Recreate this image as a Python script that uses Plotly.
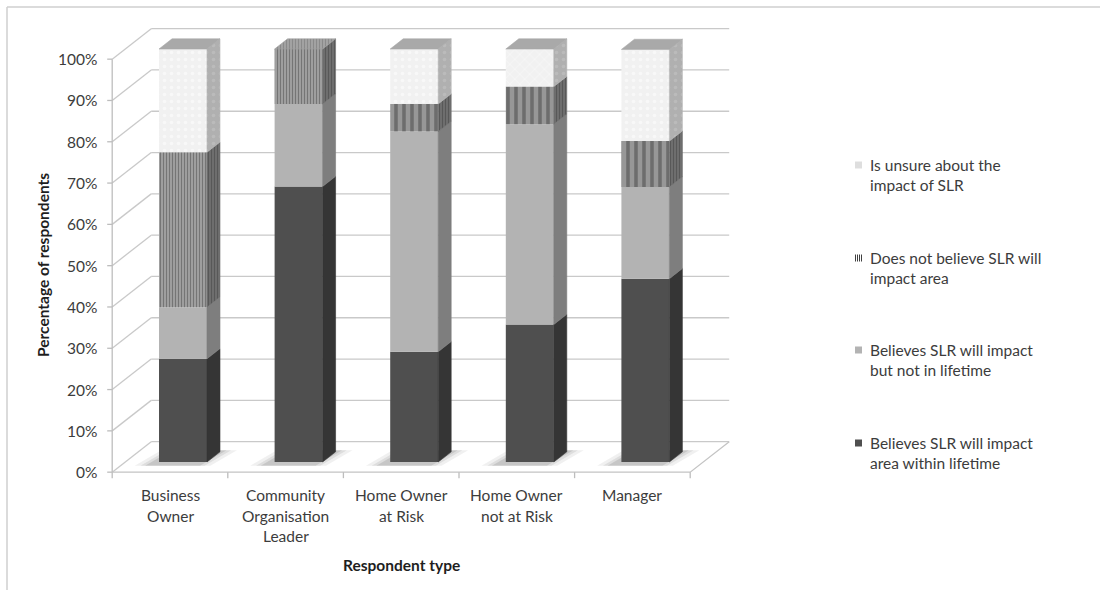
import plotly.graph_objects as go

# ---- data -------------------------------------------------------------
categories = ["Business<br>Owner", "Community<br>Organisation<br>Leader",
              "Home Owner<br>at Risk", "Home Owner<br>not at Risk", "Manager"]

within_lifetime = [25.0, 66.7, 26.7, 33.3, 44.4]
not_in_lifetime = [12.5, 20.0, 53.3, 48.5, 22.2]
not_impact_area = [37.5, 13.3, 6.7, 9.1, 11.1]
unsure = [25.0, 0.0, 13.3, 9.1, 22.2]

series_names = ["Believes SLR will impact<br>area within lifetime",
                "Believes SLR will impact<br>but not in lifetime",
                "Does not believe SLR will<br>impact area",
                "Is unsure about the<br>impact of SLR"]

y_ticks = [0, 10, 20, 30, 40, 50, 60, 70, 80, 90, 100]
y_tick_labels = [f"{t}%" for t in y_ticks]

# ---- geometry of the pseudo-3D view -----------------------------------
W, H = 1100, 590
X0_PX = 183.0          # pixel x of first column's front face centre
CAT_PX = 115.6         # pixels per category
Y0_PX = 462.0          # pixel y of 0% on the column front plane
PCT_PX = 4.13          # pixels per percentage point
DX = 39.0 / CAT_PX     # full depth offset (x, category units)
DY = 30.5 / PCT_PX     # full depth offset (y, percent units)
BW = 0.415 / 2         # half column width
D_FRONT, D_BACK = 1 / 3, 2 / 3
FS = 15.5              # text size
TXT = "#3c3c3c"

x_range = [-X0_PX / CAT_PX, (W - X0_PX) / CAT_PX]
y_range = [-(H - Y0_PX) / PCT_PX, Y0_PX / PCT_PX]
n = len(categories)
x_lo, x_hi = -0.5, n - 0.5


def proj(x, v, d):
    """Map (category x, value, depth 0..1) to the front-plane axes."""
    return x + (d - D_FRONT) * DX, v + (d - D_FRONT) * DY


def path(pts):
    return "M " + " L ".join(f"{px},{py}" for px, py in pts) + " Z"


styles = [
    dict(front="#4f4f4f", side="#353535", top="#5e5e5e", pat=None),
    dict(front="#b3b3b3", side="#7e7e7e", top="#c4c4c4", pat=None),
    dict(front=["#a6a6a6", "#a6a6a6", "#979797", "#979797", "#979797"],
         side="#6c6c6c", top="#a0a0a0",
         pat=dict(shape="|", size=[3, 3, 8, 8, 8],
                  fgcolor=["#3a3a3a", "#3a3a3a", "#6a6a6a", "#6a6a6a", "#6a6a6a"],
                  solidity=0.45),
         side_pat=dict(shape="|", size=3, fgcolor="#404040", bgcolor="#707070", solidity=0.4),
         top_pat=dict(shape="|", size=3, fgcolor="#707070", bgcolor="#a4a4a4", solidity=0.4)),
    dict(front="#f1f1f1", side="#b4b4b4", top="#a9a9a9",
         pat=dict(shape=[".", ".", ".", "x", "."], size=7, fgcolor="#ffffff", solidity=0.2),
         side_pat=dict(shape=".", size=7, fgcolor="#c6c6c6", bgcolor="#b0b0b0", solidity=0.2),
         top_pat=None),
]

fig = go.Figure()
shapes = []
annotations = []

# back wall grid + left wall diagonals
grid_col = "#c9c9c9"
for v, lab in zip(y_ticks, y_tick_labels):
    a = proj(x_lo, v, 1)
    b = proj(x_hi, v, 1)
    c = proj(x_lo, v, 0)
    shapes.append(dict(type="line", x0=a[0], y0=a[1], x1=b[0], y1=b[1],
                       line=dict(color=grid_col, width=1.3), layer="below"))
    shapes.append(dict(type="line", x0=c[0], y0=c[1], x1=a[0], y1=a[1],
                       line=dict(color=grid_col, width=1.3), layer="below"))
    # tick mark on front value axis
    shapes.append(dict(type="line", xref="x", yref="y", xsizemode="pixel", xanchor=c[0],
                       x0=-5, x1=0, y0=c[1], y1=c[1],
                       line=dict(color="#bdbdbd", width=1.3), layer="below"))
    annotations.append(dict(x=c[0], y=c[1], xref="x", yref="y", text=lab,
                            showarrow=False, xanchor="right", yanchor="middle", xshift=-13,
                            font=dict(size=FS, color=TXT)))

# front value axis
p0, p1 = proj(x_lo, 0, 0), proj(x_lo, 100, 0)
shapes.append(dict(type="line", x0=p0[0], y0=p0[1], x1=p1[0], y1=p1[1],
                   line=dict(color="#bdbdbd", width=1.3), layer="below"))
# floor edges
f0, f1, f2 = proj(x_lo, 0, 0), proj(x_hi, 0, 0), proj(x_hi, 0, 1)
shapes.append(dict(type="path", path=f"M {f0[0]},{f0[1]} L {f1[0]},{f1[1]} L {f2[0]},{f2[1]}",
                   line=dict(color="#c4c4c4", width=1.3), layer="below"))
# category ticks
for k in range(n + 1):
    t = proj(x_lo + k, 0, 0)
    shapes.append(dict(type="line", xref="x", yref="y", ysizemode="pixel", yanchor=t[1],
                       x0=t[0], x1=t[0], y0=-6, y1=0,
                       line=dict(color="#bdbdbd", width=1.3), layer="below"))

# soft floor shadows beneath the columns
for i in range(n):
    for grow, alpha in [(0.11, 0.06), (0.06, 0.08), (0.02, 0.10)]:
        pts = [proj(i - BW - grow - 0.06, 0, D_FRONT - 0.12),
               proj(i + BW + grow - 0.04, 0, D_FRONT - 0.12),
               proj(i + BW + grow + 0.02, 0, D_BACK + 0.05),
               proj(i - BW - grow, 0, D_BACK + 0.05)]
        shapes.append(dict(type="path", path=path(pts), line=dict(width=0),
                           fillcolor=f"rgba(0,0,0,{alpha})", layer="below"))

# ---- columns -----------------------------------------------------------
values = [within_lifetime, not_in_lifetime, not_impact_area, unsure]
base = [0.0] * n
xs = list(range(n))
tops = [None] * n
for s, (vals, st) in enumerate(zip(values, styles)):
    marker = dict(color=st["front"], line=dict(width=0))
    if st["pat"]:
        marker["pattern"] = st["pat"]
    fig.add_bar(x=xs, y=vals, base=base[:], width=2 * BW, marker=marker,
                showlegend=False, hoverinfo="skip")
    sx, sy = [], []
    for i in range(n):
        if vals[i] <= 0:
            continue
        lo, hi = base[i], base[i] + vals[i]
        for p in [proj(i + BW, lo, D_FRONT), proj(i + BW, lo, D_BACK),
                  proj(i + BW, hi, D_BACK), proj(i + BW, hi, D_FRONT),
                  proj(i + BW, lo, D_FRONT)]:
            sx.append(p[0]); sy.append(p[1])
        sx.append(None); sy.append(None)
        tops[i] = (s, hi)
    side = dict(x=sx, y=sy, mode="lines", fill="toself", fillcolor=st["side"],
                line=dict(width=0.6, color=st["side"]), showlegend=False, hoverinfo="skip")
    if st.get("side_pat"):
        side["fillpattern"] = st["side_pat"]
    fig.add_scatter(**side)
    base = [b + v for b, v in zip(base, vals)]

# top faces of each column
for s, st in enumerate(styles):
    tx, ty = [], []
    for i in range(n):
        if tops[i] is None or tops[i][0] != s:
            continue
        hi = tops[i][1]
        for p in [proj(i - BW, hi, D_FRONT), proj(i + BW, hi, D_FRONT),
                  proj(i + BW, hi, D_BACK), proj(i - BW, hi, D_BACK),
                  proj(i - BW, hi, D_FRONT)]:
            tx.append(p[0]); ty.append(p[1])
        tx.append(None); ty.append(None)
    if not tx:
        continue
    top = dict(x=tx, y=ty, mode="lines", fill="toself", fillcolor=st["top"],
               line=dict(width=0.6, color=st["top"]), showlegend=False, hoverinfo="skip")
    if st.get("top_pat"):
        top["fillpattern"] = st["top_pat"]
    fig.add_scatter(**top)

# ---- category labels and titles -----------------------------------------
for i, lab in enumerate(categories):
    c = proj(i, 0, 0)
    for k, line in enumerate(lab.split("<br>")):
        annotations.append(dict(x=c[0], y=c[1], xref="x", yref="y", text=line, showarrow=False,
                                xanchor="center", yanchor="middle", yshift=-23 - 20.5 * k,
                                font=dict(size=FS, color=TXT)))

mid = proj((x_lo + x_hi) / 2, 0, 0)
annotations.append(dict(x=mid[0], y=mid[1], xref="x", yref="y", text="<b>Respondent type</b>",
                        showarrow=False, xanchor="center", yanchor="middle", yshift=-93,
                        font=dict(size=FS, color="#1e1e1e")))
annotations.append(dict(x=43 / W, y=1 - 265 / H, xref="paper", yref="paper",
                        text="<b>Percentage of respondents</b>", textangle=-90, showarrow=False,
                        xanchor="center", yanchor="middle", font=dict(size=FS, color="#1e1e1e")))

# ---- legend (top entry is the top stack segment) -----------------------
legend_y = [165, 258, 350, 443]
swatch = ["#dedede", None, "#b3b3b3", "#4f4f4f"]
for j, (name, ly) in enumerate(zip(series_names[::-1], legend_y)):
    for k, line in enumerate(name.split("<br>")):
        annotations.append(dict(x=868 / W, y=1 - (ly + 20 * k) / H, xref="paper", yref="paper",
                                text=line, showarrow=False, xanchor="left", yanchor="middle",
                                font=dict(size=FS, color=TXT)))
    if swatch[j]:
        shapes.append(dict(type="rect", xref="paper", yref="paper",
                           x0=855 / W, x1=862 / W, y0=1 - (ly + 3.5) / H, y1=1 - (ly - 3.5) / H,
                           fillcolor=swatch[j], line=dict(width=0)))
    else:
        for q in range(4):
            xp = (855.5 + 2 * q) / W
            shapes.append(dict(type="line", xref="paper", yref="paper", x0=xp, x1=xp,
                               y0=1 - (ly + 3.5) / H, y1=1 - (ly - 3.5) / H,
                               line=dict(color="#404040", width=1)))

# outer chart frame (left and top edges)
shapes.append(dict(type="line", xref="paper", yref="paper", x0=7 / W, x1=7 / W, y0=0, y1=1 - 7 / H,
                   line=dict(color="#cfcfcf", width=1.5)))
shapes.append(dict(type="line", xref="paper", yref="paper", x0=7 / W, x1=1, y0=1 - 7 / H, y1=1 - 7 / H,
                   line=dict(color="#cfcfcf", width=1.5)))

fig.update_layout(
    width=W, height=H,
    margin=dict(l=0, r=0, t=0, b=0),
    paper_bgcolor="white", plot_bgcolor="white",
    barmode="overlay",
    font=dict(family="Lato, 'Open Sans', sans-serif"),
    xaxis=dict(range=x_range, visible=False, fixedrange=True),
    yaxis=dict(range=y_range, visible=False, fixedrange=True),
    shapes=shapes, annotations=annotations,
    showlegend=False, hovermode=False,
)

fig.write_html("out.html")
